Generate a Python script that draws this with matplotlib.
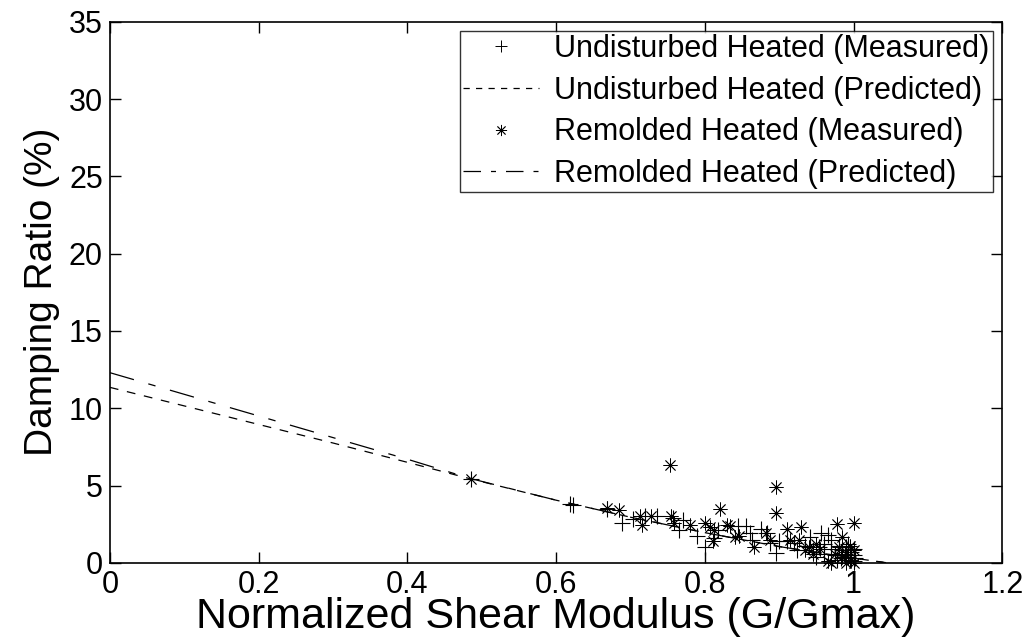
import matplotlib
matplotlib.use("Agg")
import matplotlib.pyplot as plt
from matplotlib.lines import Line2D

plt.rcParams['font.family'] = ['Liberation Sans', 'DejaVu Sans']

# Measured damping vs normalized shear modulus
undist_meas_x = [0.485, 0.623, 0.618, 0.669, 0.689, 0.704, 0.720, 0.735, 0.757, 0.765,
                 0.770, 0.790, 0.800, 0.812, 0.818, 0.845, 0.855, 0.861, 0.864, 0.875,
                 0.884, 0.888, 0.895, 0.900, 0.911, 0.920, 0.924, 0.935, 0.942, 0.945,
                 0.950, 0.953, 0.956, 0.960, 0.965, 0.969, 0.970, 0.975, 0.980, 0.983,
                 0.985, 0.988, 0.990, 0.992, 0.995, 0.997, 1.000, 1.000, 1.000, 1.002,
                 0.993, 0.978, 0.960]
undist_meas_y = [5.45, 3.75, 3.80, 3.50, 2.60, 2.85, 3.00, 3.05, 2.90, 2.15,
                 2.80, 1.75, 1.05, 1.60, 2.10, 2.40, 2.35, 1.90, 1.50, 2.20,
                 1.90, 1.30, 0.65, 1.40, 1.40, 1.25, 0.85, 1.10, 1.70, 0.70,
                 0.40, 1.00, 1.90, 1.20, 1.80, 1.50, 0.90, 0.50, 1.10, 0.30,
                 0.80, 0.60, 1.00, 0.40, 0.20, 0.70, 0.50, 0.90, 0.10, 0.30,
                 1.20, 0.20, 0.60]

remold_meas_x = [0.485, 0.668, 0.685, 0.713, 0.716, 0.727, 0.753, 0.755, 0.758, 0.780,
                 0.800, 0.807, 0.812, 0.811, 0.821, 0.830, 0.834, 0.841, 0.846, 0.866,
                 0.882, 0.888, 0.896, 0.896, 0.910, 0.915, 0.929, 0.927, 0.940, 0.945,
                 0.955, 0.965, 0.970, 0.978, 0.985, 1.000, 0.980, 0.985, 0.990, 0.995,
                 0.997, 1.000, 1.000, 0.990, 0.975, 0.950, 0.935]
remold_meas_y = [5.45, 3.55, 3.40, 3.00, 2.45, 3.00, 6.30, 3.00, 2.55, 2.45,
                 2.60, 2.30, 2.10, 1.40, 3.45, 2.45, 2.35, 1.65, 1.75, 1.05,
                 1.95, 1.50, 4.90, 3.20, 2.20, 1.50, 2.30, 1.50, 1.00, 0.60,
                 0.90, 0.10, 0.00, 2.50, 1.70, 2.60, 1.00, 0.40, 0.70, 1.10,
                 0.20, 0.00, 0.80, 0.00, 0.60, 1.20, 0.80]

# Predicted curves
pred_x = [0.0, 0.1, 0.2, 0.3, 0.4, 0.485, 0.6, 0.7, 0.8, 0.9, 1.0, 1.06]
undist_pred_y = [11.35, 10.15, 8.95, 7.75, 6.50, 5.43, 4.05, 2.95, 1.95, 1.05, 0.30, -0.10]
remold_pred_y = [12.30, 10.90, 9.50, 8.10, 6.70, 5.45, 4.05, 2.95, 1.95, 1.05, 0.30, -0.10]

x_ticks = [0, 0.2, 0.4, 0.6, 0.8, 1, 1.2]
x_tick_labels = ['0', '0.2', '0.4', '0.6', '0.8', '1', '1.2']
y_ticks = [0, 5, 10, 15, 20, 25, 30, 35]

fig = plt.figure(figsize=(10.27, 6.41), dpi=100)
ax = fig.add_axes([0.107, 0.122, 0.869, 0.844])

asterisk = (8, 2, 0)
ax.plot(undist_meas_x, undist_meas_y, linestyle='none', marker='+', color='black',
        markersize=11, markeredgewidth=0.8, clip_on=False)
ax.plot(pred_x, undist_pred_y, color='black', linewidth=0.9, linestyle=(0, (7, 7)))
ax.plot(remold_meas_x, remold_meas_y, linestyle='none', marker=asterisk, color='black',
        markersize=10, markeredgewidth=0.6, clip_on=False)
ax.plot(pred_x, remold_pred_y, color='black', linewidth=0.9,
        linestyle=(0, (20, 12, 6, 12)))

ax.set_xlim(0, 1.2)
ax.set_ylim(0, 35)
ax.set_xticks(x_ticks)
ax.set_xticklabels(x_tick_labels)
ax.set_yticks(y_ticks)
ax.tick_params(direction='in', length=8, width=1, labelsize=22, top=True, right=True,
               pad=5)
for sp in ax.spines.values():
    sp.set_linewidth(1.2)

ax.set_xlabel('Normalized Shear Modulus (G/Gmax)', fontsize=31, labelpad=-2)
ax.set_ylabel('Damping Ratio (%)', fontsize=28, labelpad=6)

handles = [
    Line2D([], [], linestyle='none', marker='+', color='black', markersize=9, markeredgewidth=0.7),
    Line2D([], [], color='black', linewidth=0.9, linestyle=(0, (5, 5))),
    Line2D([], [], linestyle='none', marker=asterisk, color='black', markersize=8, markeredgewidth=0.6),
    Line2D([], [], color='black', linewidth=0.9, linestyle=(0, (14, 8, 4, 8))),
]
labels = ['Undisturbed Heated (Measured)', 'Undisturbed Heated (Predicted)',
          'Remolded Heated (Measured)', 'Remolded Heated (Predicted)']
leg = ax.legend(handles, labels, loc='upper right', bbox_to_anchor=(0.989, 0.983),
                fontsize=22, frameon=True, fancybox=False, edgecolor='black',
                handlelength=2.5, handletextpad=0.5, borderpad=0.1, labelspacing=0.38,
                borderaxespad=0)
leg.get_frame().set_linewidth(1.0)

fig.savefig('out.png', dpi=100, facecolor='white')
